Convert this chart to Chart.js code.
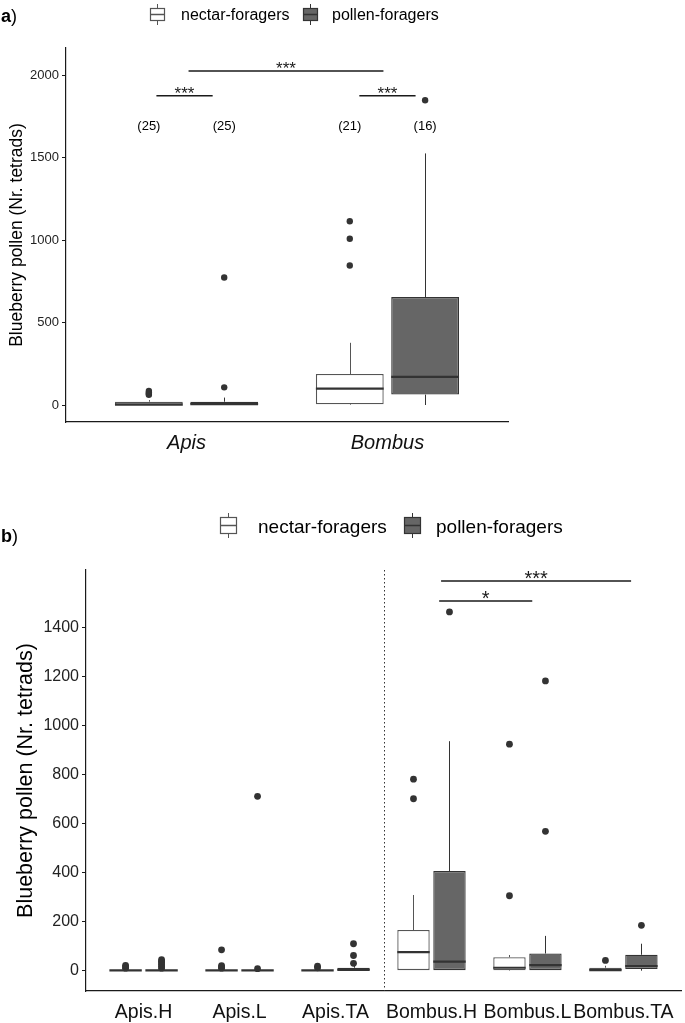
<!DOCTYPE html>
<html>
<head>
<meta charset="utf-8">
<script src="https://cdn.jsdelivr.net/npm/chart.js@4.4.1/dist/chart.umd.min.js"></script>
<style>
  body { margin: 0; background: #fff; font-family: "Liberation Sans", Arial, sans-serif; }
  #page { position: relative; width: 685px; height: 1023px; overflow: hidden; }
  canvas { position: absolute; left: 0; }
  .abs { position: absolute; white-space: nowrap; color: #000; line-height: 1; }
  .panel b { font-weight: bold; }
</style>
</head>
<body>
<div id="page">
  <canvas id="top-chart" width="685" height="470" style="top:0"></canvas>
  <canvas id="site-chart" width="685" height="553" style="top:470px"></canvas>

  <div class="abs panel" style="left:1px; top:7px; font-size:18px;"><b>a</b>)</div>
  <svg class="abs" style="left:149px; top:4px" width="17" height="21">
    <line x1="8.5" y1="0" x2="8.5" y2="21" stroke="#555" stroke-width="1"/>
    <rect x="1.5" y="4.5" width="14" height="12" fill="#fff" stroke="#555" stroke-width="1.2"/>
    <line x1="1.5" y1="10.5" x2="15.5" y2="10.5" stroke="#555" stroke-width="1.5"/>
  </svg>
  <div class="abs" style="left:181px; top:7px; font-size:16px;">nectar-foragers</div>
  <svg class="abs" style="left:302px; top:4px" width="17" height="21">
    <line x1="8.5" y1="0" x2="8.5" y2="21" stroke="#333" stroke-width="1"/>
    <rect x="1.5" y="4.5" width="14" height="12" fill="#666" stroke="#333" stroke-width="1.2"/>
    <line x1="1.5" y1="10.5" x2="15.5" y2="10.5" stroke="#333" stroke-width="1.5"/>
  </svg>
  <div class="abs" style="left:332px; top:7px; font-size:16px;">pollen-foragers</div>

  <div class="abs panel" style="left:1px; top:527px; font-size:18px;"><b>b</b>)</div>
  <svg class="abs" style="left:219px; top:513px" width="19" height="25">
    <line x1="9.5" y1="0" x2="9.5" y2="25" stroke="#555" stroke-width="1"/>
    <rect x="1.5" y="4.5" width="16" height="16" fill="#fff" stroke="#555" stroke-width="1.2"/>
    <line x1="1.5" y1="12.5" x2="17.5" y2="12.5" stroke="#555" stroke-width="1.5"/>
  </svg>
  <div class="abs" style="left:258px; top:517px; font-size:19px;">nectar-foragers</div>
  <svg class="abs" style="left:403px; top:513px" width="19" height="25">
    <line x1="9.5" y1="0" x2="9.5" y2="25" stroke="#333" stroke-width="1"/>
    <rect x="1.5" y="4.5" width="16" height="16" fill="#666" stroke="#333" stroke-width="1.2"/>
    <line x1="1.5" y1="12.5" x2="17.5" y2="12.5" stroke="#333" stroke-width="1.5"/>
  </svg>
  <div class="abs" style="left:436px; top:517px; font-size:19px;">pollen-foragers</div>
</div>

<script>
// ---- panel a: genus ----
const genera = ['Apis', 'Bombus'];
// each box: [lower whisker, Q1, median, Q3, upper whisker]
const genusNectar = [[0, 0, 2, 20, 30], [0, 4, 99, 188, 377]];
const genusPollen = [[0, 0, 5, 20, 45], [0, 63, 170, 654, 1525]];
const genusNectarOut = [[62, 68, 76, 85], [846, 1008, 1114]];
const genusPollenOut = [[107, 773], [1847]];
const genusCounts = ['(25)', '(25)', '(21)', '(16)'];
const genusTicks = [0, 500, 1000, 1500, 2000];
const genusSigText = ['***', '***', '***'];
const genusSigFrom = [-0.15, 0.01, 0.86];
const genusSigTo = [0.13, 0.98, 1.14];
const genusSigY = [1875, 2025, 1875];

// ---- panel b: genus by site ----
const sites = ['Apis.H', 'Apis.L', 'Apis.TA', 'Bombus.H', 'Bombus.L', 'Bombus.TA'];
const siteNectar = [[0, 0, 1, 3, 5], [0, 0, 1, 3, 5], [0, 0, 1, 3, 5], [0, 0, 76, 166, 309], [0, 2, 12, 55, 64], [0, 0, 2, 12, 20]];
const sitePollen = [[0, 0, 1, 4, 8], [0, 0, 1, 3, 5], [0, 0, 3, 12, 25], [0, 0, 37, 407, 937], [0, 0, 23, 70, 142], [0, 7, 19, 65, 110]];
const siteNectarOut = [[10, 15, 22], [10, 15, 20, 85], [12, 18], [702, 782], [306, 925], [42]];
const sitePollenOut = [[10, 18, 25, 32, 38, 45], [8, 712], [30, 62, 110], [1465], [569, 1183], [185]];
const siteTicks = [0, 200, 400, 600, 800, 1000, 1200, 1400];
const siteSigText = ['*', '***'];
const siteSigFrom = [3.08, 3.1];
const siteSigTo = [4.05, 5.08];
const siteSigY = [1509, 1591];

const FONT = '"Liberation Sans", Arial, sans-serif';
const DODGE = 0.1875;

function outlierPoints(outs, shift) {
    const pts = [];
    outs.forEach((vals, i) => vals.forEach(v => pts.push({ x: i + shift, y: v })));
    return pts;
}

function boxDatasets(nectar, pollen, nectarOut, pollenOut, radius) {
    return [
        {
            label: 'nectar-foragers',
            data: nectar.map((s, i) => ({ x: i, y: [s[1], s[3]] })),
            stats: nectar,
            backgroundColor: '#ffffff',
            borderColor: '#555555',
            lineColor: '#555555',
            borderWidth: 1.3,
            borderSkipped: false,
            order: 2
        },
        {
            label: 'pollen-foragers',
            data: pollen.map((s, i) => ({ x: i, y: [s[1], s[3]] })),
            stats: pollen,
            backgroundColor: '#666666',
            borderColor: '#333333',
            lineColor: '#333333',
            borderWidth: 1.3,
            borderSkipped: false,
            order: 2
        },
        {
            type: 'scatter',
            data: outlierPoints(nectarOut, -DODGE),
            pointRadius: radius,
            pointBackgroundColor: '#333333',
            pointBorderWidth: 0,
            order: 1
        },
        {
            type: 'scatter',
            data: outlierPoints(pollenOut, DODGE),
            pointRadius: radius,
            pointBackgroundColor: '#333333',
            pointBorderWidth: 0,
            order: 1
        }
    ];
}

// whiskers under the boxes, medians on top
const boxParts = {
    id: 'boxParts',
    beforeDatasetsDraw(chart) {
        const { ctx, scales: { y } } = chart;
        chart.data.datasets.forEach((ds, d) => {
            if (!ds.stats) return;
            ctx.save();
            ctx.strokeStyle = ds.lineColor;
            ctx.lineWidth = 1;
            chart.getDatasetMeta(d).data.forEach((bar, i) => {
                const s = ds.stats[i];
                const x = Math.round(bar.x) + 0.5;
                ctx.beginPath();
                ctx.moveTo(x, y.getPixelForValue(s[0]));
                ctx.lineTo(x, y.getPixelForValue(s[1]));
                ctx.moveTo(x, y.getPixelForValue(s[3]));
                ctx.lineTo(x, y.getPixelForValue(s[4]));
                ctx.stroke();
            });
            ctx.restore();
        });
    },
    afterDatasetsDraw(chart) {
        const { ctx, scales: { y } } = chart;
        chart.data.datasets.forEach((ds, d) => {
            if (!ds.stats) return;
            ctx.save();
            ctx.strokeStyle = '#333333';
            ctx.lineWidth = 2.2;
            chart.getDatasetMeta(d).data.forEach((bar, i) => {
                const yy = y.getPixelForValue(ds.stats[i][2]);
                ctx.beginPath();
                ctx.moveTo(bar.x - bar.width / 2, yy);
                ctx.lineTo(bar.x + bar.width / 2, yy);
                ctx.stroke();
            });
            ctx.restore();
        });
    }
};

function sigPlugin(texts, from, to, ys, fontSize, counts, countY, divider) {
    return {
        id: 'notes',
        afterDatasetsDraw(chart) {
            const { ctx, chartArea, scales: { x, y } } = chart;
            ctx.save();
            if (divider !== undefined) {
                ctx.strokeStyle = '#333';
                ctx.lineWidth = 1;
                ctx.setLineDash([1.5, 2.5]);
                const dx = Math.round(x.getPixelForValue(divider)) + 0.5;
                ctx.beginPath();
                ctx.moveTo(dx, chartArea.top);
                ctx.lineTo(dx, chartArea.bottom);
                ctx.stroke();
                ctx.setLineDash([]);
            }
            ctx.strokeStyle = '#1a1a1a';
            ctx.fillStyle = '#1a1a1a';
            ctx.lineWidth = 1.5;
            ctx.textAlign = 'center';
            ctx.textBaseline = 'alphabetic';
            ctx.font = fontSize + 'px ' + FONT;
            texts.forEach((t, k) => {
                const yy = y.getPixelForValue(ys[k]);
                const x0 = x.getPixelForValue(from[k]);
                const x1 = x.getPixelForValue(to[k]);
                ctx.beginPath();
                ctx.moveTo(x0, yy);
                ctx.lineTo(x1, yy);
                ctx.stroke();
                ctx.fillText(t, (x0 + x1) / 2, yy + fontSize * 0.18);
            });
            if (counts) {
                ctx.font = '13px ' + FONT;
                ctx.fillStyle = '#000';
                ctx.textBaseline = 'middle';
                counts.forEach((c, k) => {
                    const gx = Math.floor(k / 2) + (k % 2 ? DODGE : -DODGE);
                    ctx.fillText(c, x.getPixelForValue(gx), y.getPixelForValue(countY));
                });
            }
            ctx.restore();
        }
    };
}

function makeChart(canvasId, cats, datasets, opts, plugins) {
    return new Chart(document.getElementById(canvasId), {
        type: 'bar',
        data: { datasets: datasets },
        options: {
            responsive: false,
            animation: false,
            events: [],
            devicePixelRatio: 1,
            categoryPercentage: 0.75,
            barPercentage: 0.9,
            layout: { padding: opts.padding },
            plugins: { legend: { display: false }, tooltip: { enabled: false } },
            scales: {
                x: {
                    type: 'linear',
                    min: -0.6,
                    max: cats.length - 0.4,
                    offset: false,
                    afterBuildTicks: s => { s.ticks = cats.map((c, i) => ({ value: i })); },
                    afterFit: s => { s.height = opts.xHeight; },
                    ticks: {
                        autoSkip: false,
                        maxRotation: 0,
                        padding: opts.xPad,
                        color: '#111',
                        font: { family: FONT, size: opts.xFont, style: opts.xStyle },
                        callback: v => cats[v]
                    },
                    grid: { display: false },
                    border: { display: true, color: '#1a1a1a', width: 1.2 }
                },
                y: {
                    min: opts.yMin,
                    max: opts.yMax,
                    afterBuildTicks: s => { s.ticks = opts.yTicks.map(v => ({ value: v })); },
                    afterFit: s => { s.width = opts.yWidth; },
                    ticks: {
                        padding: 3,
                        color: '#222',
                        font: { family: FONT, size: opts.yFont },
                        callback: v => String(v)
                    },
                    grid: { display: true, drawOnChartArea: false, drawTicks: true, tickLength: 4, color: '#1a1a1a' },
                    border: { display: true, color: '#1a1a1a', width: 1.2 },
                    title: {
                        display: true,
                        text: 'Blueberry pollen (Nr. tetrads)',
                        color: '#000',
                        font: { family: FONT, size: opts.titleFont },
                        padding: { top: opts.titlePad, bottom: 0 }
                    }
                }
            }
        },
        plugins: plugins
    });
}

makeChart('top-chart', genera,
    boxDatasets(genusNectar, genusPollen, genusNectarOut, genusPollenOut, 3.2),
    {
        padding: { top: 48, right: 177, bottom: 8, left: 0 },
        xHeight: 40, xPad: 1, xFont: 20, xStyle: 'italic',
        yMin: -103, yMax: 2164, yTicks: genusTicks, yWidth: 66, yFont: 13,
        titleFont: 17.5, titlePad: 6.5
    },
    [boxParts, sigPlugin(genusSigText, genusSigFrom, genusSigTo, genusSigY, 17, genusCounts, 1689)]
);

makeChart('site-chart', sites,
    boxDatasets(siteNectar, sitePollen, siteNectarOut, sitePollenOut, 3.4),
    {
        padding: { top: 100, right: 0, bottom: 0, left: 0 },
        xHeight: 32, xPad: 2, xFont: 19.5, xStyle: 'normal',
        yMin: -83, yMax: 1636, yTicks: siteTicks, yWidth: 86, yFont: 16,
        titleFont: 21.5, titlePad: 13.2
    },
    [boxParts, sigPlugin(siteSigText, siteSigFrom, siteSigTo, siteSigY, 20, null, 0, 2.5)]
);
</script>
</body>
</html>
